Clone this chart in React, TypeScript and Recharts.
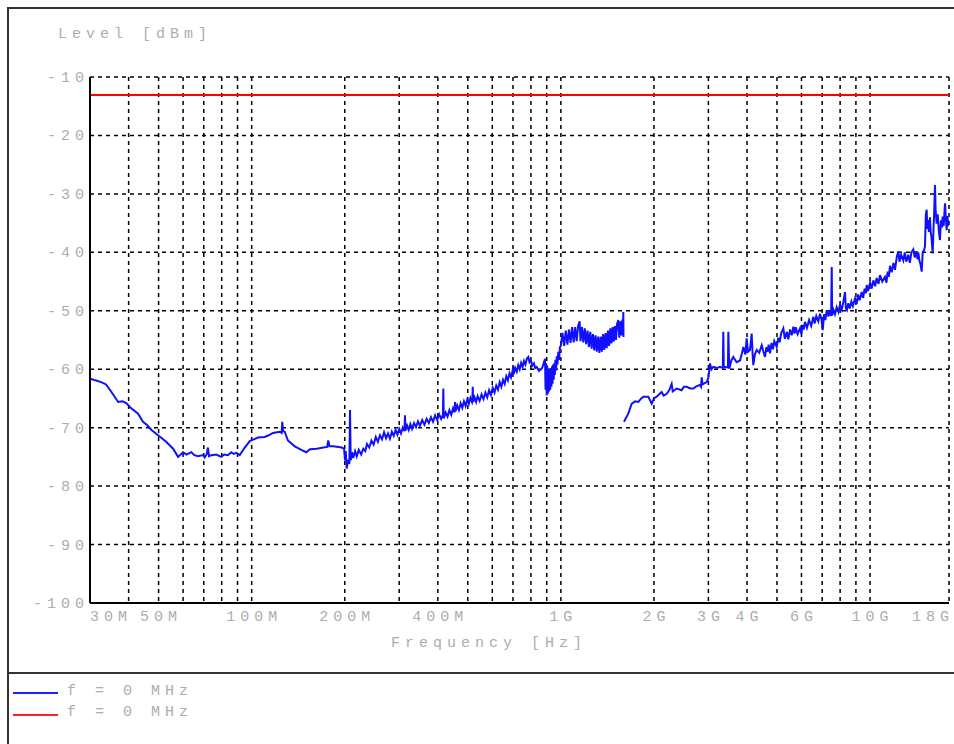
import React from 'react';
import { LineChart, Line, XAxis, YAxis, CartesianGrid } from 'recharts';

// frequency in MHz, level in dBm
const levelTicks = [-100, -90, -80, -70, -60, -50, -40, -30, -20, -10];
const gridFreqs = [30, 40, 50, 60, 70, 80, 90, 100, 200, 300, 400, 500, 600, 700, 800, 900, 1000,
    2000, 3000, 4000, 5000, 6000, 7000, 8000, 9000, 10000, 18000];
const labelFreqs = [30, 50, 100, 200, 400, 1000, 2000, 3000, 4000, 6000, 10000, 18000];
const labelNames = ['30M', '50M', '100M', '200M', '400M', '1G', '2G', '3G', '4G', '6G', '10G', '18G'];

const limitPoints = [[30, -13.1], [18000, -13.1]];

// sweep up to ~1.6 GHz
const lowBandPoints = [
    [30, -61.6], [31.2, -61.9], [32.6, -62.2], [33.8, -62.6], [35.2, -63.9], [37.0, -65.6], [38.2, -65.5],
    [39.3, -65.8], [40.8, -66.7], [42.9, -67.6], [44.5, -69.0], [46.0, -69.6], [47.4, -70.4], [49.8, -71.3],
    [52.9, -72.4], [55.7, -73.6], [57.8, -75.0], [60.0, -74.2], [61.5, -74.6], [63.8, -74.2], [65.3, -74.7],
    [67.1, -74.9], [69.6, -74.7], [70.5, -75.1], [71.6, -74.5], [72.2, -73.4], [72.8, -74.9], [74.0, -74.7],
    [76.8, -74.6], [79.7, -75.0], [81.5, -74.6], [83.8, -74.7], [85.9, -74.2], [87.5, -74.5], [89.2, -74.3],
    [91.5, -74.7], [95.0, -73.4], [98.6, -72.3], [101.5, -72.0], [104.8, -71.7], [110.2, -71.6], [113.5, -71.3],
    [117.2, -70.9], [123.2, -70.7], [125.0, -70.9], [125.6, -69.0], [126.3, -70.6], [127.9, -70.7], [131.0, -72.2],
    [137.8, -73.2], [144.7, -73.8], [150.2, -74.2], [154.4, -73.7], [162.3, -73.6], [170.5, -73.4], [175.5, -73.3],
    [176.9, -72.2], [178.5, -73.2], [183.6, -73.2], [195.5, -73.4], [199.0, -73.6], [200.4, -75.6], [201.5, -74.0],
    [202.9, -77.0], [205.0, -75.5], [207.0, -76.2], [208.0, -67.0], [209.1, -75.6], [211, -74.2], [213, -75.2],
    [216, -74.0], [218.6, -74.9], [222, -73.8], [226, -74.6], [229.6, -73.6], [233, -74.0], [236, -72.8],
    [240, -73.4], [244, -72.2], [248, -72.9], [252, -71.6], [256, -72.4], [260, -71.3], [264, -72.0],
    [268, -70.8], [272, -71.8], [276, -71.0], [280, -71.9], [284, -70.7], [288, -71.4], [292, -70.4],
    [296, -71.2], [300, -70.2], [304, -71.0], [308, -70.0], [312, -70.6], [313.2, -67.9], [314.2, -70.5],
    [318, -69.6], [322, -70.4], [326, -69.4], [330, -70.2], [335, -69.2], [340, -69.9], [345, -68.9],
    [350, -69.7], [356, -68.7], [362, -69.5], [368, -68.5], [374, -69.2], [380, -68.2], [386, -69.0],
    [392, -67.9], [398, -68.7], [404, -67.7], [410, -68.5], [415.5, -67.8], [416.7, -63.3], [418, -68.4],
    [424, -67.4], [430, -68.1], [436, -67.0], [442, -67.8], [448, -66.7], [453, -67.4], [454.7, -65.6],
    [456.5, -67.2], [462, -66.2], [468, -67.0], [474, -65.8], [480, -66.6], [486, -65.5], [492, -66.3],
    [498, -65.2], [504, -65.9], [510, -64.9], [516, -65.6], [517.5, -65.2], [518.8, -63.0], [520.5, -65.6],
    [526, -64.8], [532, -65.6], [538, -64.6], [546, -65.4], [554, -64.3], [562, -65.1], [570, -64.0],
    [578, -64.8], [586, -63.6], [594, -64.4], [602, -63.2], [610, -64.0], [618, -62.8], [626, -63.5],
    [634, -62.2], [642, -63.0], [650, -61.8], [658, -62.5], [666, -61.2], [674, -61.9], [682, -60.7],
    [690, -61.4], [698, -60.2], [701.7, -59.5], [704, -60.8], [712, -59.8], [720, -60.4], [728, -59.3],
    [736, -60.0], [744, -58.9], [752, -59.6], [760, -58.6], [768, -59.2], [776, -58.2], [784.7, -57.9],
    [792, -58.8], [800, -58.5], [808, -59.4], [818, -59.0], [826, -59.8], [835.5, -59.6], [850, -60.3],
    [870, -59.8], [888.7, -58.2], [892, -63.5], [896, -59.0], [900, -64.5], [904, -59.5], [908, -64.2],
    [912, -60.0], [916, -63.8], [920, -60.2], [924, -63.5], [928, -59.8], [932, -63.0], [936, -59.5],
    [940, -62.5], [944, -59.2], [948, -61.8], [952, -59.0], [956, -61.0], [960, -58.4], [965, -60.2],
    [970, -57.8], [975, -59.2], [981, -57.0], [987, -58.4], [993, -56.2], [1000, -56.0], [1012, -53.8],
    [1025, -56.0], [1037, -53.4], [1050, -55.8], [1062, -53.2], [1075, -55.5], [1087, -52.8], [1100, -55.4],
    [1112, -52.8], [1125, -55.2], [1137, -52.6], [1150, -51.8], [1158, -55.2], [1170, -52.8], [1182, -55.4],
    [1195, -53.0], [1207, -55.7], [1220, -53.4], [1232, -56.2], [1245, -53.6], [1257, -56.5], [1270, -54.0],
    [1282, -56.8], [1295, -54.2], [1307, -57.0], [1320, -54.4], [1332, -57.2], [1345, -54.4], [1357, -57.0],
    [1370, -54.0], [1382, -56.7], [1395, -53.8], [1407, -56.4], [1420, -53.4], [1432, -56.0], [1445, -53.0],
    [1457, -55.6], [1470, -52.8], [1482, -55.3], [1495, -52.6], [1507, -55.0], [1520, -52.2], [1534, -51.6],
    [1545, -54.6], [1557, -51.8], [1570, -54.2], [1580, -51.5], [1588, -54.0], [1592, -50.2], [1594, -54.5],
];

// sweep from ~1.6 GHz to 18 GHz
const highBandPoints = [
    [1600, -69.0], [1652, -67.6], [1695, -65.9], [1740, -65.5], [1780, -65.6], [1820, -65.0], [1848, -64.7],
    [1918, -64.7], [1967, -65.9], [2000, -65.0], [2041, -64.7], [2080, -64.3], [2119, -63.9], [2150, -64.5],
    [2199, -64.2], [2240, -63.6], [2282, -62.5], [2300, -63.8], [2369, -63.3], [2459, -63.6], [2500, -63.0],
    [2552, -63.0], [2620, -63.3], [2681, -63.3], [2750, -62.9], [2818, -62.7], [2840, -63.0], [2854, -61.4],
    [2870, -62.6], [2962, -62.2], [3000, -61.5], [3036, -59.0], [3070, -60.0], [3111, -59.6], [3200, -59.8],
    [3270, -59.6], [3340, -59.8], [3352, -53.6], [3365, -59.6], [3395, -59.6], [3470, -59.7], [3480, -53.6],
    [3505, -59.9], [3560, -58.5], [3611, -57.9], [3700, -58.8], [3797, -58.5], [3850, -57.3], [3892, -56.2],
    [3950, -57.5], [3990, -54.7], [4030, -57.0], [4089, -56.7], [4141, -53.9], [4170, -57.5], [4191, -59.3],
    [4240, -57.5], [4299, -56.7], [4380, -57.2], [4462, -55.9], [4520, -57.0], [4573, -57.9], [4620, -56.2],
    [4660, -57.0], [4700, -55.8], [4746, -57.3], [4800, -55.5], [4850, -56.6], [4900, -55.2], [4989, -56.2],
    [5050, -54.6], [5100, -55.4], [5160, -53.8], [5242, -53.0], [5300, -54.8], [5380, -53.6], [5440, -54.9],
    [5509, -53.2], [5580, -54.2], [5648, -52.7], [5700, -53.9], [5750, -52.8], [5830, -54.0], [5937, -53.0],
    [6000, -54.0], [6050, -52.4], [6100, -53.2], [6161, -51.9], [6250, -52.9], [6350, -51.6], [6450, -52.6],
    [6554, -51.0], [6620, -52.2], [6700, -50.9], [6800, -51.8], [6889, -50.5], [6960, -51.4], [7030, -53.3],
    [7100, -50.6], [7170, -51.6], [7242, -49.9], [7330, -51.0], [7400, -50.0], [7480, -50.9], [7517, -42.5],
    [7540, -50.8], [7606, -49.8], [7700, -50.6], [7800, -49.4], [7900, -50.2], [7994, -49.0], [8100, -49.8],
    [8200, -48.4], [8297, -46.8], [8350, -49.6], [8420, -49.9], [8505, -48.7], [8600, -49.6], [8700, -48.4],
    [8800, -49.2], [8939, -47.9], [9050, -48.8], [9150, -47.2], [9250, -48.2], [9396, -46.8], [9500, -47.8],
    [9600, -46.2], [9700, -47.0], [9753, -45.6], [9850, -46.6], [10000, -45.2], [10120, -46.2], [10245, -44.8],
    [10380, -45.8], [10500, -44.4], [10650, -45.4], [10767, -43.9], [10950, -45.0], [11175, -44.2], [11300, -45.2],
    [11400, -43.3], [11500, -44.2], [11598, -42.3], [11750, -43.4], [11900, -41.8], [12039, -43.0], [12200, -40.8],
    [12338, -39.8], [12450, -41.6], [12600, -40.4], [12809, -41.4], [12950, -40.0], [13100, -41.6], [13294, -40.4],
    [13450, -41.8], [13600, -40.0], [13798, -39.5], [13950, -40.9], [14100, -39.8], [14250, -41.2], [14321, -40.0],
    [14450, -41.5], [14550, -42.0], [14688, -43.3], [14800, -40.0], [14950, -39.6], [15051, -39.0], [15150, -33.5],
    [15243, -32.7], [15320, -36.0], [15400, -34.5], [15500, -36.5], [15624, -34.0], [15700, -36.5], [15800, -37.5],
    [15939, -40.2], [16050, -35.5], [16100, -34.0], [16217, -28.5], [16300, -33.0], [16423, -35.1], [16550, -33.5],
    [16700, -36.5], [16830, -37.9], [16950, -34.5], [17050, -35.8], [17174, -33.9], [17300, -35.5], [17470, -31.6],
    [17600, -34.5], [17692, -36.2], [17800, -33.8], [17900, -35.5], [18000, -34.5],
];

const toRows = (points) => points.map(([freq, level]) => ({ freq, level }));

const monoFont = '"Liberation Mono", "DejaVu Sans Mono", monospace';
const textGray = '#adadad';

const textStyle = {
    fontFamily: monoFont,
    fontSize: 15,
    letterSpacing: 5,
    color: textGray,
    whiteSpace: 'nowrap' as const,
    position: 'absolute' as const,
    lineHeight: '16px',
};

const FreqTick = (props) => {
    const { x, payload } = props;
    const idx = labelFreqs.indexOf(payload.value);
    if (idx < 0) return <g />;
    let anchor = 'middle';
    let dx = 2.5;
    if (idx === 0) { anchor = 'start'; dx = 0; }
    if (idx === labelFreqs.length - 1) { anchor = 'end'; dx = 5; }
    return (
        <text x={x + dx} y={613} textAnchor={anchor} fill={textGray}
            fontFamily={monoFont} fontSize={15} letterSpacing={5}>
            {labelNames[idx]}
        </text>
    );
};

const LevelTick = (props) => {
    const { x, y, payload } = props;
    return (
        <text x={x + 7} y={y + 5} textAnchor="end" fill={textGray}
            fontFamily={monoFont} fontSize={15} letterSpacing={5}>
            {payload.value}
        </text>
    );
};

const App: React.FC = () => {
    return (
        <div style={{ position: 'absolute', left: 0, top: 0, width: 954, height: 744, overflow: 'hidden', background: '#fff' }}>
            <div style={{ position: 'absolute', left: 7, top: 7, width: 1000, height: 800, border: '2px solid #333' }} />
            <div style={{ position: 'absolute', left: 8, top: 672, width: 960, height: 0, borderTop: '2px solid #333' }} />

            <div style={{ ...textStyle, left: 58, top: 27 }}>Level [dBm]</div>
            <div style={{ ...textStyle, left: 391, top: 636 }}>Frequency [Hz]</div>

            <div style={{ position: 'absolute', left: 13, top: 692, width: 45, height: 2, background: '#1f1fff' }} />
            <div style={{ ...textStyle, left: 67, top: 684 }}>f = 0 MHz</div>
            <div style={{ position: 'absolute', left: 13, top: 714, width: 45, height: 2, background: '#ff2020' }} />
            <div style={{ ...textStyle, left: 67, top: 705 }}>f = 0 MHz</div>

            <div style={{ position: 'absolute', left: 8, top: 8 }}>
                <LineChart width={946} height={660} margin={{ top: 69, right: 5, left: 0, bottom: 0 }}>
                    <CartesianGrid stroke="#000" strokeWidth={1.5} strokeDasharray="4 4" />
                    <XAxis dataKey="freq" type="number" scale="log" domain={[30, 18000]} ticks={gridFreqs}
                        interval={0} tickLine={false} height={65} allowDataOverflow
                        axisLine={{ stroke: '#000', strokeWidth: 2 }} tick={<FreqTick />} />
                    <YAxis type="number" domain={[-100, -10]} ticks={levelTicks} interval={0} width={82}
                        tickLine={false} allowDataOverflow axisLine={{ stroke: '#000', strokeWidth: 2 }}
                        tick={<LevelTick />} />
                    <Line data={toRows(limitPoints)} dataKey="level" stroke="#ff0000" strokeWidth={2}
                        dot={false} isAnimationActive={false} />
                    <Line data={toRows(lowBandPoints)} dataKey="level" stroke="#1010ff" strokeWidth={2}
                        dot={false} isAnimationActive={false} />
                    <Line data={toRows(highBandPoints)} dataKey="level" stroke="#1010ff" strokeWidth={2}
                        dot={false} isAnimationActive={false} />
                </LineChart>
            </div>
        </div>
    );
};

export default App;
